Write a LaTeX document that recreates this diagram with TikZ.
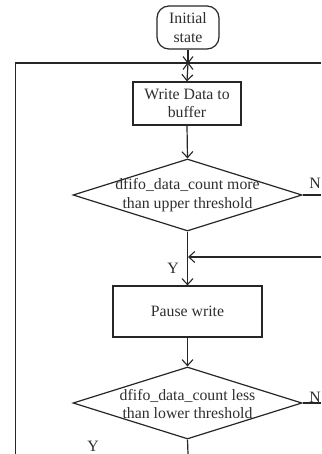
\documentclass[tikz,border=0pt]{standalone}
\usepackage{fontspec}
\setmainfont{Liberation Serif}
\usetikzlibrary{shapes.geometric,arrows.meta}

\tikzset{
  flow/.style={line width=1.2pt, draw=black!85},
  arr/.style={flow, -{Straight Barb[length=6pt,width=11pt,line width=1.1pt]}},
  txt/.style={font=\fontsize{15.8}{18.5}\selectfont, text=black!82, align=center, inner sep=0pt},
  startbox/.style={flow, rectangle, rounded corners=12pt, minimum width=62pt, minimum height=43pt, inner sep=0pt, txt},
  procbox/.style={flow, rectangle, inner sep=0pt, txt},
  decision/.style={flow, diamond, aspect=3, inner sep=0pt, minimum width=229pt, minimum height=72pt},
  yn/.style={font=\fontsize{15.8}{18.5}\selectfont, text=black!82, inner sep=0pt},
}

\begin{document}
\begin{tikzpicture}[x=1pt,y=-1pt]
  \useasboundingbox (0,0) rectangle (321,454);

  % blocks
  \node[startbox] (init) at (188,27.5) {Initial\\state};
  \node[procbox, minimum width=108pt, minimum height=43pt] (write) at (187,103.5) {Write Data to\\buffer};
  \node[decision] (dec1) at (187.5,195) {};
  \node[txt] (dec1t) at (187.5,195) {dfifo\_data\_count more\\than upper threshold};
  \node[procbox, minimum width=149pt, minimum height=51pt] (pause) at (187.5,311.5) {Pause write};
  \node[decision] (dec2) at (187.5,403) {};
  \node[txt] (dec2t) at (187.5,404) {dfifo\_data\_count less\\than lower threshold};

  % junctions and loose ends
  \coordinate (join) at (188,63);
  \coordinate (loopL) at (15.5,63);
  \coordinate (loopLb) at (15.5,454);
  \coordinate (loopR) at (321,63);
  \coordinate (exit1) at (321,195);
  \coordinate (back) at (321,257);
  \coordinate (merge) at (188,257);
  \coordinate (exit2) at (321,403);
  \coordinate (down) at (188,454);

  % loop lines meeting at the junction
  \draw[flow] (init.south) -- (join);
  \draw[flow] (loopLb) -- (loopL) -- (join);
  \draw[flow] (loopR) -- (join);
  \draw[flow, line width=1.1pt] ([shift={(-5,-6.5)}]join) -- ([shift={(5,6.5)}]join)
                                ([shift={(5,-6.5)}]join) -- ([shift={(-5,6.5)}]join);

  % main flow
  \draw[arr] (join) -- (write.north);
  \draw[arr] (write.south) -- (dec1.north);
  \draw[flow] (dec1.east) -- (exit1);
  \draw[arr] (dec1.south) -- (pause.north);
  \draw[arr] (back) -- (merge);
  \draw[arr] (pause.south) -- (dec2.north);
  \draw[flow] (dec2.east) -- (exit2);
  \draw[flow] (dec2.south) -- (down);

  % branch labels
  \node[yn] (n1) at (315,183) {N};
  \node[yn] (y1) at (173,268) {Y};
  \node[yn] (n2) at (315,397) {N};
  \node[yn] (y2) at (93,446) {Y};
\end{tikzpicture}
\end{document}
